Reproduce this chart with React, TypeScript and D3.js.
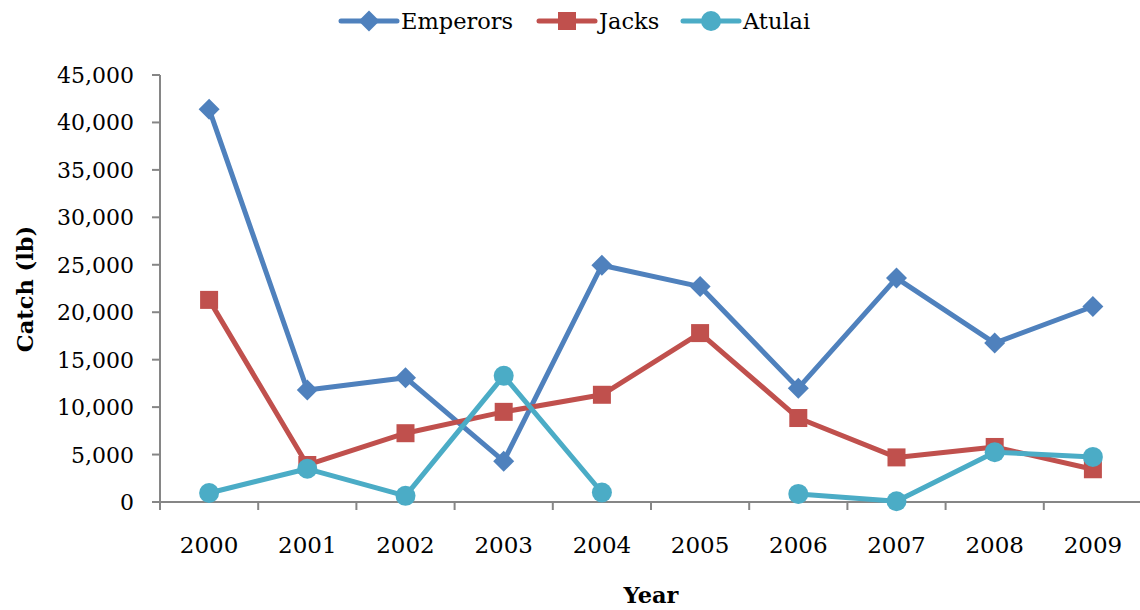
import React from "react";
import * as d3 from "d3";

const years = ["2000", "2001", "2002", "2003", "2004", "2005", "2006", "2007", "2008", "2009"];
const emperors = [41400, 11800, 13100, 4300, 24950, 22700, 12000, 23600, 16750, 20600];
const jacks = [21300, 3900, 7250, 9500, 11300, 17800, 8850, 4700, 5800, 3450];
const atulai: (number | null)[] = [950, 3500, 650, 13300, 1000, null, 850, 80, 5250, 4750];
const yTicks = [0, 5000, 10000, 15000, 20000, 25000, 30000, 35000, 40000, 45000];

const W = 1140;
const H = 610;
const FONT = "'DejaVu Serif', serif";
const AXIS = "#868686";

type Series = { name: string; color: string; values: (number | null)[]; shape: "diamond" | "square" | "circle" };

const series: Series[] = [
  { name: "Emperors", color: "#4F81BD", values: emperors, shape: "diamond" },
  { name: "Jacks", color: "#C0504D", values: jacks, shape: "square" },
  { name: "Atulai", color: "#4BACC6", values: atulai, shape: "circle" },
];

function Marker({ shape, x, y, color }: { shape: Series["shape"]; x: number; y: number; color: string }) {
  if (shape === "diamond") {
    const r = 10.5;
    return <path d={`M${x},${y - r}L${x + r},${y}L${x},${y + r}L${x - r},${y}Z`} fill={color} />;
  }
  if (shape === "square") {
    const s = 18;
    return <rect x={x - s / 2} y={y - s / 2} width={s} height={s} fill={color} />;
  }
  return <circle cx={x} cy={y} r={10} fill={color} />;
}

export default function App() {
  const left = 160;
  const right = 1142;
  const top = 75;
  const bottom = 502;

  const x = d3.scaleBand<string>().domain(years).range([left, right]);
  const y = d3.scaleLinear().domain([0, 45000]).range([bottom, top]);
  const cx = (yr: string) => (x(yr) as number) + x.bandwidth() / 2;

  const line = d3
    .line<number | null>()
    .defined((d) => d !== null)
    .x((_, i) => cx(years[i]))
    .y((d) => y(d as number));

  const fmt = d3.format(",");

  const legendItems = [
    { s: series[0], x0: 341 },
    { s: series[1], x0: 539 },
    { s: series[2], x0: 683 },
  ];

  return (
    <svg width={W} height={H} style={{ position: "absolute", left: 0, top: 0, background: "#fff" }} fontFamily={FONT}>
      {/* legend */}
      {legendItems.map(({ s, x0 }) => (
        <g key={s.name}>
          <line x1={x0} x2={x0 + 56} y1={21} y2={21} stroke={s.color} strokeWidth={5} strokeLinecap="round" />
          <Marker shape={s.shape} x={x0 + 28} y={21} color={s.color} />
          <text x={x0 + 60} y={29} fontSize={22.5} fill="#000">
            {s.name}
          </text>
        </g>
      ))}

      {/* y axis */}
      <line x1={left} x2={left} y1={top} y2={bottom} stroke={AXIS} strokeWidth={2} />
      {yTicks.map((t) => (
        <g key={t}>
          <line x1={left - 8} x2={left} y1={y(t)} y2={y(t)} stroke={AXIS} strokeWidth={2} />
          <text x={134} y={y(t) + 8} textAnchor="end" fontSize={22} fill="#000">
            {fmt(t)}
          </text>
        </g>
      ))}

      {/* x axis */}
      <line x1={left} x2={right} y1={bottom} y2={bottom} stroke={AXIS} strokeWidth={2} />
      {years.map((yr) => (
        <line key={"t" + yr} x1={x(yr) as number} x2={x(yr) as number} y1={bottom} y2={bottom + 8} stroke={AXIS} strokeWidth={2} />
      ))}
      {years.map((yr) => (
        <text key={"l" + yr} x={cx(yr)} y={553} textAnchor="middle" fontSize={23} fill="#000">
          {yr}
        </text>
      ))}

      {/* axis titles */}
      <text x={651} y={603} textAnchor="middle" fontSize={22.5} fontWeight="bold" fill="#000">
        Year
      </text>
      <text transform="translate(33,289) rotate(-90)" textAnchor="middle" fontSize={22.5} fontWeight="bold" fill="#000">
        Catch (lb)
      </text>

      {/* series */}
      {series.map((s) => (
        <g key={s.name}>
          <path d={line(s.values) || ""} fill="none" stroke={s.color} strokeWidth={5} strokeLinejoin="round" strokeLinecap="round" />
          {s.values.map((v, i) =>
            v === null ? null : <Marker key={i} shape={s.shape} x={cx(years[i])} y={y(v)} color={s.color} />
          )}
        </g>
      ))}
    </svg>
  );
}
